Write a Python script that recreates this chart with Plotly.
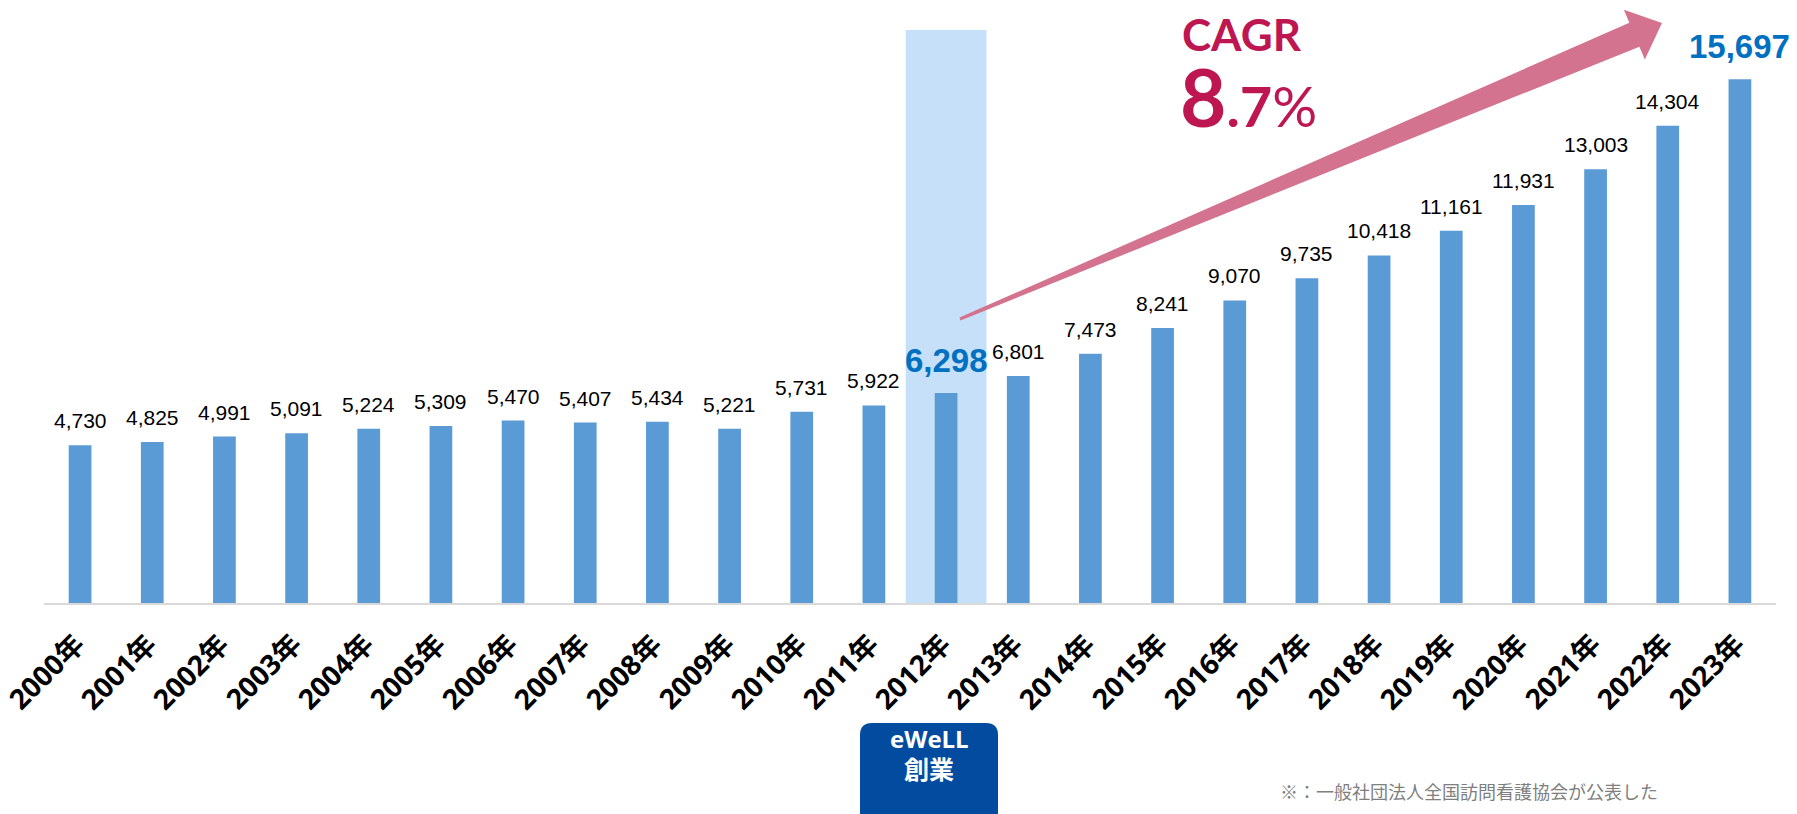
import numpy as np
import plotly.graph_objects as go

years = [f"{y}年" for y in range(2000, 2024)]
stations = [4730, 4825, 4991, 5091, 5224, 5309, 5470, 5407, 5434, 5221, 5731, 5922,
            6298, 6801, 7473, 8241, 9070, 9735, 10418, 11161, 11931, 13003, 14304, 15697]
highlight_years = ["2012年", "2023年"]
founding_year = "2012年"
cagr_text = "8.7%"
note_text = "※：一般社団法人全国訪問看護協会が公表した"

# page puts the figure 8px in from the top-left corner
OFF = 8
W, H = 1781, 814
L_M, R_M, T_M, B_M = 36, 13, 0, 219
PLOT_W = W - L_M - R_M
PLOT_H = H - T_M - B_M
PX_PER_UNIT = 0.03336
YMAX = PLOT_H / PX_PER_UNIT

BAR_COLOR = '#5b9bd5'
BLUE_TXT = '#0070c0'
CRIMSON = '#be1650'
ARROW_COLOR = '#d4738f'
NAVY = '#034b9f'
FONT = 'Liberation Sans, Noto Sans CJK JP, sans-serif'
TICK_FONT = 'Open Sans, Noto Sans CJK JP, sans-serif'


def px(sx):
    return (sx - OFF - L_M) / PLOT_W


def py(sy):
    return (PLOT_H - (sy - OFF - T_M)) / PLOT_H


fig = go.Figure()
fig.add_trace(go.Bar(
    x=years, y=stations, marker=dict(color=BAR_COLOR, line=dict(width=0)),
    hoverinfo='x+y', showlegend=False,
))

# value labels + slanted year labels
for yr, v in zip(years, stations):
    big = yr in highlight_years
    fig.add_annotation(
        x=yr, y=v, xref='x', yref='y', text=f"{v:,}",
        showarrow=False, yanchor='bottom',
        yshift=12 if big else 11,
        font=dict(family=FONT, size=33 if big else 21,
                  color=BLUE_TXT if big else 'black',
                  weight='bold' if big else 'normal'),
    )
    fig.add_annotation(
        x=yr, y=0, xref='x', yref='y', text=yr, textangle=-45,
        showarrow=False, xanchor='center', yanchor='middle',
        xshift=-34, yshift=-68, borderpad=0,
        font=dict(family=TICK_FONT, size=28, color='black', weight='bold'),
    )

# eWeLL founding year highlight
fi = years.index(founding_year)
fig.add_shape(type='rect', xref='x', yref='paper',
              x0=fi - 0.56, x1=fi + 0.56, y0=0, y1=py(30),
              fillcolor='#c6e0fa', line=dict(width=0), layer='below')

# tapered CAGR arrow
tail = np.array([960.0, 319.0])
tip = np.array([1662.0, 23.0])
d = (tip - tail) / np.linalg.norm(tip - tail)
n = np.array([-d[1], d[0]])
base = tip - 30 * d
pts = [tail - 1.5 * n, base - 13 * n, base - 27 * n, tip,
       base + 27 * n, base + 13 * n, tail + 1.5 * n]
path = 'M ' + ' L '.join(f"{px(p[0]):.5f},{py(p[1]):.5f}" for p in pts) + ' Z'
fig.add_shape(type='path', xref='paper', yref='paper', path=path,
              fillcolor=ARROW_COLOR, line=dict(width=0), layer='above')

fig.add_annotation(x=px(1180), y=py(34), xref='paper', yref='paper', text='CAGR',
                   showarrow=False, xanchor='left', yanchor='middle',
                   font=dict(family='Lato, Open Sans, sans-serif', size=44,
                             color=CRIMSON, weight='bold'))
fig.add_annotation(x=px(1178), y=py(96), xref='paper', yref='paper',
                   text=f"<span style='font-size:80px'>{cagr_text[0]}</span>"
                        f"<span style='font-size:56px'>{cagr_text[1:3]}</span>"
                        f"<span style='font-size:56px;font-weight:normal'>{cagr_text[3:]}</span>",
                   showarrow=False, xanchor='left', yanchor='middle',
                   font=dict(family='Lato, Open Sans, sans-serif', size=80,
                             color=CRIMSON, weight='bold'))

# eWeLL badge
x0, x1, y0, y1, r = px(860), px(998), py(723), py(840), 12
rx, ry = r / PLOT_W, r / PLOT_H
badge = (f"M {x0 + rx},{y0} L {x1 - rx},{y0} Q {x1},{y0} {x1},{y0 - ry} "
         f"L {x1},{y1} L {x0},{y1} L {x0},{y0 - ry} Q {x0},{y0} {x0 + rx},{y0} Z")
fig.add_shape(type='path', xref='paper', yref='paper', path=badge,
              fillcolor=NAVY, line=dict(width=0))
fig.add_annotation(x=px(929), y=py(757), xref='paper', yref='paper', text='eWeLL',
                   showarrow=False, font=dict(family='Open Sans, sans-serif', size=24,
                                              color='white', weight='bold'))
fig.add_annotation(x=px(929), y=py(788), xref='paper', yref='paper', text='創業',
                   showarrow=False, font=dict(family='Noto Sans CJK JP', size=25,
                                              color='white', weight='bold'))

fig.add_annotation(x=px(1278), y=py(791), xref='paper', yref='paper', text=note_text,
                   showarrow=False, xanchor='left', yanchor='middle',
                   font=dict(family='Noto Sans CJK JP', size=18, color='#7f7f7f'))

fig.update_xaxes(range=[-0.5, len(years) - 0.5], autorange=False,
                 showline=True, linecolor='#d9d9d9', linewidth=2, showgrid=False,
                 ticks='', showticklabels=False)
fig.update_yaxes(range=[0, YMAX], visible=False, showgrid=False)

fig.update_layout(
    width=W, height=H, bargap=0.685,
    paper_bgcolor='white', plot_bgcolor='rgba(0,0,0,0)',
    margin=dict(l=L_M, r=R_M, t=T_M, b=B_M, autoexpand=False),
    showlegend=False,
)

fig.write_html("out.html")
